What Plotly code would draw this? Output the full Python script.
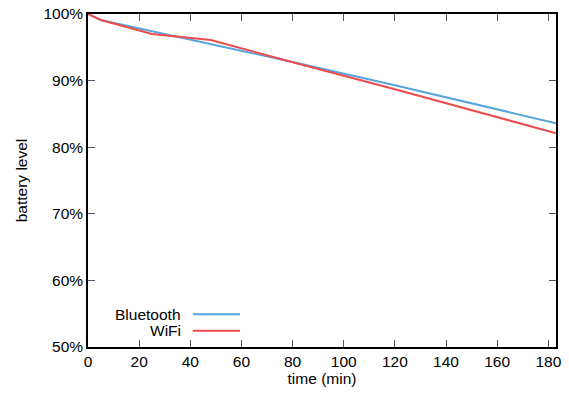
import plotly.graph_objects as go

bt_time = [0, 5, 25, 48, 80, 120, 183]
bt_level = [100, 99.1, 97.4, 95.5, 92.8, 89.3, 83.6]
wifi_time = [0, 5, 25, 48, 80, 120, 183]
wifi_level = [100, 99.1, 97.0, 96.1, 92.75, 88.7, 82.1]

BLUE = "#56a5dc"
RED = "#ee4c4c"
FONT = "Liberation Sans, Arial, sans-serif"
FS = 15.5

fig = go.Figure()
fig.add_trace(go.Scatter(x=bt_time, y=bt_level, mode="lines", name="Bluetooth",
                         line=dict(color=BLUE, width=2), showlegend=False))
fig.add_trace(go.Scatter(x=wifi_time, y=wifi_level, mode="lines", name="WiFi",
                         line=dict(color=RED, width=2), showlegend=False))

axis_common = dict(showline=True, linecolor="black", linewidth=1.5, mirror="ticks",
                   ticks="inside", ticklen=7, tickcolor="#555", tickwidth=1,
                   showgrid=False, zeroline=False, automargin=False,
                   tickfont=dict(family=FONT, size=FS, color="black"))

fig.update_xaxes(range=[0, 183], dtick=20, tick0=0,
                 title=dict(text="time (min)", font=dict(family=FONT, size=FS, color="black"), standoff=4),
                 **axis_common)
fig.update_yaxes(range=[50, 100], dtick=10, tick0=50, ticksuffix="%",
                 title=dict(text="battery level", font=dict(family=FONT, size=FS, color="black"), standoff=12),
                 **axis_common)

# legend drawn gnuplot-style: label text then line sample
legend_items = [("Bluetooth", BLUE, 0.098), ("WiFi", RED, 0.049)]
for label, color, yp in legend_items:
    fig.add_annotation(x=0.203, y=yp, xref="paper", yref="paper", text=label,
                       showarrow=False, xanchor="right", yanchor="middle",
                       font=dict(family=FONT, size=FS, color="black"))
    fig.add_shape(type="line", xref="paper", yref="paper", x0=0.224, x1=0.325,
                  y0=yp, y1=yp, line=dict(color=color, width=2))

fig.update_layout(width=569, height=396, margin=dict(l=88, r=13, t=14, b=49),
                  plot_bgcolor="white", paper_bgcolor="white",
                  font=dict(family=FONT, size=FS, color="black"))

fig.write_html("out.html")
